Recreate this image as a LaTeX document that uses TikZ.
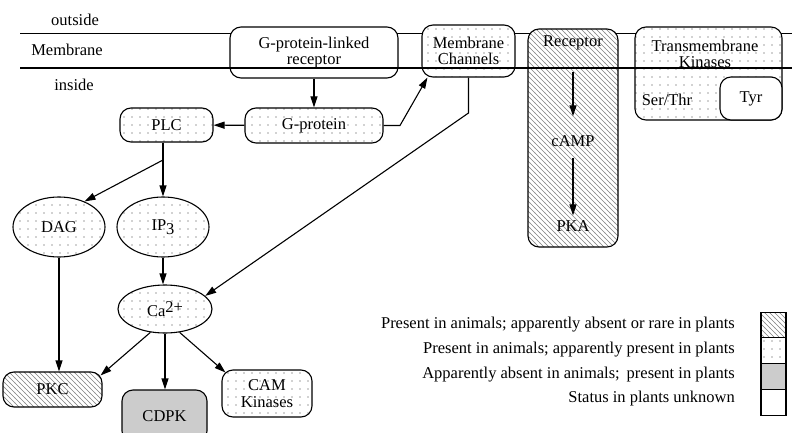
\documentclass[tikz,border=0pt]{standalone}
\usepackage{fontspec}
\setmainfont{Liberation Serif}
\usetikzlibrary{arrows.meta,patterns,shapes.geometric}

\pgfdeclarepatternformonly{sparsedots}{\pgfqpoint{-1pt}{-1pt}}{\pgfqpoint{9pt}{9pt}}{\pgfqpoint{8pt}{8pt}}{\pgfpathcircle{\pgfqpoint{4pt}{4pt}}{0.7pt}\pgfusepath{fill}}
\pgfdeclarepatternformonly{sparsehatch}{\pgfqpoint{-1pt}{-1pt}}{\pgfqpoint{6pt}{6pt}}{\pgfqpoint{5pt}{5pt}}{\pgfsetlinewidth{0.4pt}\pgfpathmoveto{\pgfqpoint{-0.2pt}{5.2pt}}\pgfpathlineto{\pgfqpoint{5.2pt}{-0.2pt}}\pgfusepath{stroke}}

\tikzset{
  every node/.style={font=\fontsize{16.5}{16.5}\selectfont},
  box/.style={draw, line width=1.1pt, rounded corners=11pt, inner sep=0pt, align=center},
  oval/.style={ellipse, draw, line width=1.1pt, inner sep=0pt},
  dotfill/.style={preaction={fill=white}, pattern=sparsedots, pattern color=black!75},
  hatchfill/.style={preaction={fill=white}, pattern=sparsehatch, pattern color=black!50},
  plantfill/.style={fill=black!20},
  whitefill/.style={fill=white},
  lbl/.style={inner sep=0pt, align=center},
  legbox/.style={draw, line width=1.1pt, inner sep=0pt, minimum width=25pt, minimum height=25.75pt},
  arr/.style={-{Triangle[length=11pt,width=7pt]}, line width=1.1pt},
  memline/.style={line width=1.1pt},
}

\begin{document}
\begin{tikzpicture}[x=1pt,y=1pt]
\useasboundingbox (0,0) rectangle (792,-433);
\clip (0,0) rectangle (792,-433);

% membrane top line
\draw[memline] (20,-33.5) -- (792,-33.5);

% side labels
\node[lbl] (outside) at (75,-20) {outside};
\node[lbl] (membrane) at (67,-50) {Membrane};
\node[lbl] (inside) at (74,-85) {inside};

% membrane boxes
\node[box, whitefill, minimum width=168pt, minimum height=51pt] (gplr) at (314,-52.5) {G-protein-linked\\receptor};
\node[box, dotfill, minimum width=93pt, minimum height=52pt] (mch) at (468.5,-51) {Membrane\\Channels};
\node[box, hatchfill, minimum width=90pt, minimum height=218pt] (rec) at (573,-138) {};
\node[box, dotfill, minimum width=147pt, minimum height=93pt] (tmk) at (708.5,-73.5) {};
\node[box, whitefill, minimum width=62pt, minimum height=43pt] (tyr) at (751,-98.5) {Tyr};

% membrane bottom line
\draw[memline] (20,-68) -- (792,-68);

\node[lbl] (reclab) at (573,-43) {Receptor};
\node[lbl] (camp) at (573,-141) {cAMP};
\node[lbl] (pka) at (573,-226) {PKA};
\node[lbl] (tmklab) at (705,-54) {Transmembrane\\Kinases};
\node[lbl] (serthr) at (667,-100) {Ser/Thr};

% cytoplasm nodes
\node[box, dotfill, minimum width=138pt, minimum height=35pt] (gprot) at (314,-125.5) {G-protein};
\node[box, dotfill, minimum width=93pt, minimum height=34pt] (plc) at (166.5,-125) {PLC};
\node[oval, dotfill, minimum width=92pt, minimum height=60pt] (dag) at (59,-227) {DAG};
\node[oval, dotfill, minimum width=92pt, minimum height=60pt] (ip3) at (163,-227) {IP\raisebox{-0.5ex}{3}};
\node[oval, dotfill, minimum width=94pt, minimum height=48pt] (ca) at (165,-309) {Ca\raisebox{0.6ex}{2+}};
\node[box, hatchfill, minimum width=99pt, minimum height=35pt] (pkc) at (52.5,-389.5) {PKC};
\node[box, plantfill, minimum width=85pt, minimum height=52pt] (cdpk) at (164.5,-416) {CDPK};
\node[box, dotfill, minimum width=90pt, minimum height=47pt] (cam) at (267,-393.5) {CAM\\Kinases};

% connectors
\draw[arr, shorten <=22pt, shorten >=19pt] (reclab) -- (camp);
\draw[arr, shorten <=11pt, shorten >=5pt] (camp) -- (pka);
\draw[arr] (gplr) -- (gprot);
\draw[arr] (gprot) -- (plc);
\coordinate (gc) at (400,-125.5);
\draw[arr] (gprot.east) -- (gc) -- ([xshift=6pt]mch.south west);
\coordinate (mc) at (468.5,-113);
\draw[arr] (mch.south) -- (mc) -- (ca.18);
\coordinate (br) at (163,-160);
\draw[arr] (plc.south -| ip3.north) -- (ip3.north);
\draw[arr] (br) -- (dag.45);
\draw[arr] (dag.south) -- (dag.south |- pkc.north);
\draw[arr] (ip3.south) -- (ip3.south |- ca.north);
\draw[arr] (ca.-122) -- ([xshift=-2pt,yshift=-4pt]pkc.north east);
\draw[arr] (ca.south) -- (ca.south |- cdpk.north);
\draw[arr] (ca.-58) -- ([xshift=4pt,yshift=-3pt]cam.north west);

% legend
\node[lbl, anchor=east] (t1) at (735,-325) {Present in animals; apparently absent or rare in plants};
\node[lbl, anchor=east] (t2) at (735,-350) {Present in animals; apparently present in plants};
\node[lbl, anchor=east] (t3) at (735,-375) {Apparently absent in animals;\, present in plants};
\node[lbl, anchor=east] (t4) at (735,-399) {Status in plants unknown};
\node[legbox, hatchfill] (k1) at (773.5,-325) {};
\node[legbox, dotfill] (k2) at (773.5,-350.75) {};
\node[legbox, plantfill] (k3) at (773.5,-376.5) {};
\node[legbox, whitefill] (k4) at (773.5,-402.25) {};
\end{tikzpicture}
\end{document}
